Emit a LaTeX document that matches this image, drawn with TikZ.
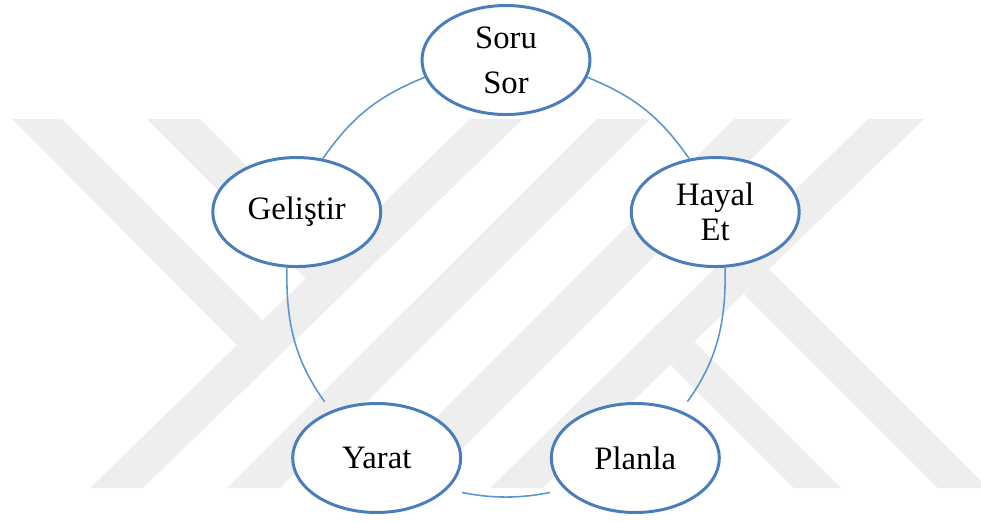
\documentclass[tikz,border=0pt]{standalone}
\usepackage{fontspec}
\setmainfont{Liberation Serif}
\usetikzlibrary{shapes}
\definecolor{ringblue}{RGB}{74,126,187}
\definecolor{arcblue}{RGB}{91,150,210}
\definecolor{markgray}{RGB}{238,238,238}

\begin{document}
\begin{tikzpicture}[
    phase/.style={ellipse, draw=ringblue, line width=0.85pt, fill=white,
        minimum width=1.68cm, minimum height=1.09cm, inner sep=0pt,
        align=center, font=\fontsize{9.3}{10}\selectfont},
    link/.style={draw=arcblue, line width=0.45pt},
    stripe/.style={fill=markgray}]

\clip (-5.06,-2.41) rectangle (4.75,2.80);

% faint watermark behind the cycle
\fill[stripe] (-0.36,1.61) -- (0.17,1.61) -- (-3.63,-2.08) -- (-4.16,-2.08) -- cycle;
\fill[stripe] (0.91,1.61) -- (1.44,1.61) -- (-2.26,-2.08) -- (-2.79,-2.08) -- cycle;
\fill[stripe] (2.28,1.61) -- (2.85,1.61) -- (-0.83,-2.08) -- (-1.40,-2.08) -- cycle;
\fill[stripe] (3.62,1.61) -- (4.18,1.61) -- (0.37,-2.08) -- (-0.16,-2.08) -- cycle;
\fill[stripe] (-4.94,1.61) -- (-4.44,1.61) -- (-2.433,-0.407) -- (-2.687,-0.653) -- cycle;
\fill[stripe] (-3.59,1.61) -- (-3.06,1.61) -- (-1.732,0.272) -- (-2.001,0.011) -- cycle;
\fill[stripe] (1.647,-0.847) -- (1.886,-0.616) -- (3.35,-2.08) -- (2.88,-2.08) -- cycle;
\fill[stripe] (2.379,-0.139) -- (2.634,0.106) -- (4.82,-2.08) -- (4.32,-2.08) -- cycle;

\draw
    node at(90:2.2)[phase,name=soru]{Soru\\[2.8pt]Sor}
    node at(18:2.2)[phase,name=hayal]{Hayal\\Et}
    node at(-54:2.2)[phase,name=planla]{Planla}
    node at(234:2.2)[phase,name=yarat]{Yarat}
    node at(162:2.2)[phase,name=gelis]{Geliştir}
;

    \draw[link](soru.192) to[bend right=16.5] (gelis.64);
    \draw[link, shorten >=1.1mm](gelis.260) to[bend right=18.5] (yarat.134);
    \draw[link, shorten <=1.5mm, shorten >=1.5mm](yarat.336) to[bend right=11.5] (planla.204);
    \draw[link, shorten <=1.1mm](planla.46) to[bend right=18.5] (hayal.280);
    \draw[link](hayal.116) to[bend right=16.5] (soru.348);

\end{tikzpicture}
\end{document}
